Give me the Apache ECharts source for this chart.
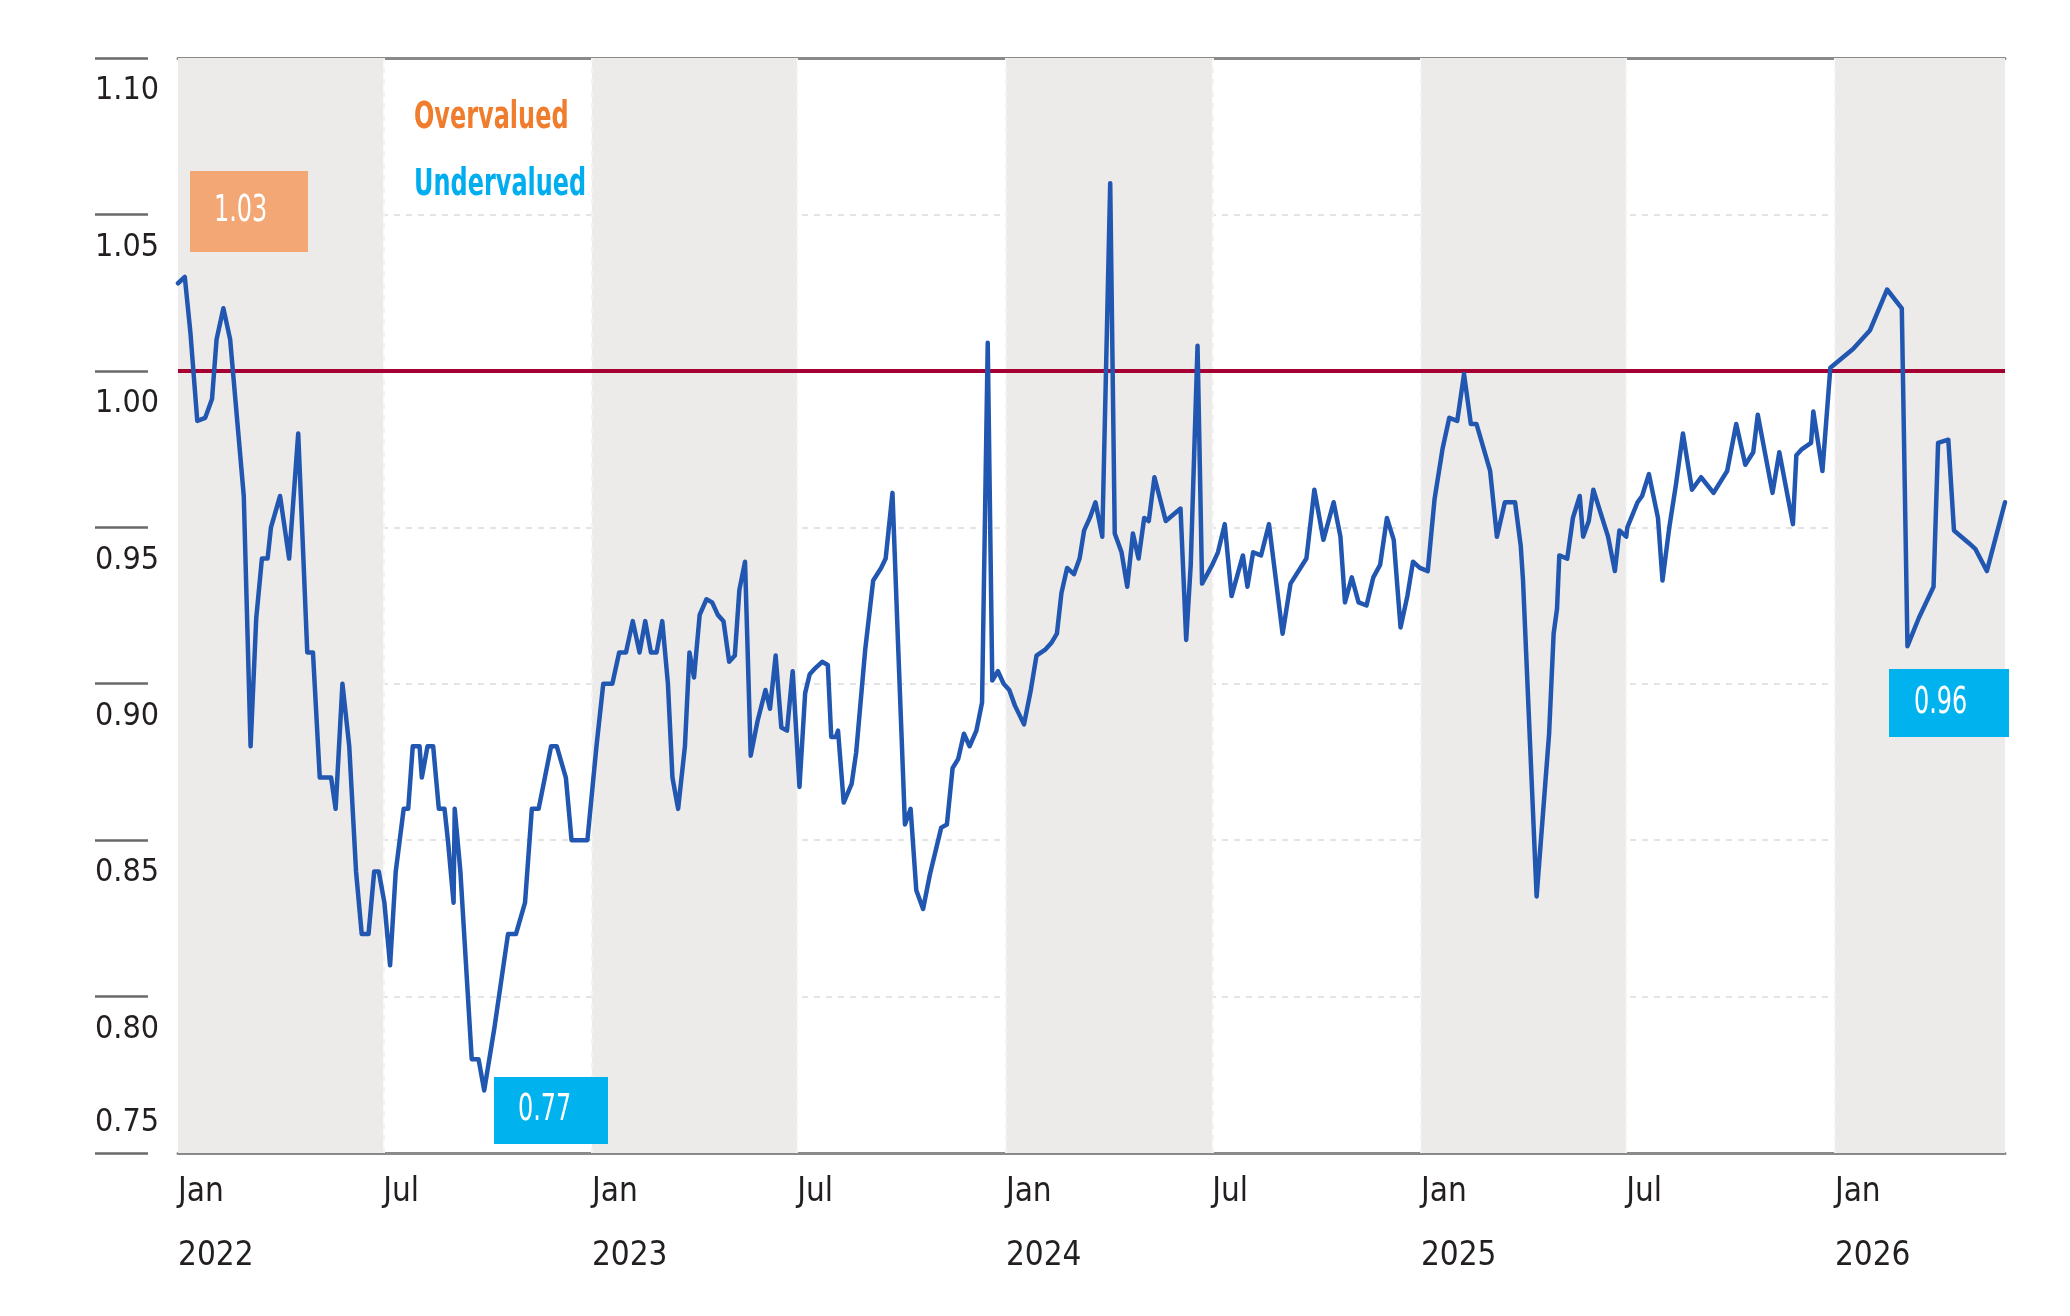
<!DOCTYPE html>
<html>
<head>
<meta charset="utf-8">
<script src="https://cdn.jsdelivr.net/npm/echarts@6/dist/echarts.min.js"></script>
<style>
html,body{margin:0;padding:0;background:#fff;}
#chart{width:2070px;height:1316px;}
</style>
</head>
<body>
<div id="chart"></div>
<script>
// ---- data ----
const dates = [
'2022-01-01','2022-01-07','2022-01-12','2022-01-18','2022-01-25','2022-01-31','2022-02-04','2022-02-10','2022-02-16','2022-02-28',
'2022-03-06','2022-03-11','2022-03-16','2022-03-21','2022-03-24','2022-04-01','2022-04-09','2022-04-17','2022-04-25','2022-04-30',
'2022-05-06','2022-05-16','2022-05-20','2022-05-26','2022-06-01','2022-06-07','2022-06-12','2022-06-18','2022-06-23','2022-06-27',
'2022-07-02','2022-07-07','2022-07-12','2022-07-19','2022-07-23','2022-07-27','2022-08-02','2022-08-04','2022-08-09','2022-08-14',
'2022-08-19','2022-08-24','2022-08-27','2022-09-01','2022-09-02','2022-09-07','2022-09-17','2022-09-23','2022-09-28','2022-10-07',
'2022-10-19','2022-10-26','2022-11-03','2022-11-09','2022-11-15','2022-11-26','2022-12-01','2022-12-09','2022-12-14','2022-12-28',
'2023-01-05','2023-01-11','2023-01-19','2023-01-25','2023-01-31','2023-02-06','2023-02-12','2023-02-17','2023-02-22','2023-02-27',
'2023-03-04','2023-03-09','2023-03-13','2023-03-18','2023-03-24','2023-03-28','2023-04-01','2023-04-06','2023-04-12','2023-04-17',
'2023-04-22','2023-04-27','2023-05-02','2023-05-07','2023-05-11','2023-05-16','2023-05-21','2023-05-27','2023-06-03','2023-06-07',
'2023-06-12','2023-06-17','2023-06-22','2023-06-27','2023-07-03','2023-07-08','2023-07-12','2023-07-17','2023-07-23','2023-07-28',
'2023-07-31','2023-08-04','2023-08-06','2023-08-11','2023-08-18','2023-08-22','2023-08-30','2023-09-06','2023-09-13','2023-09-17',
'2023-09-23','2023-09-28','2023-10-04','2023-10-09','2023-10-14','2023-10-20','2023-10-26','2023-11-05','2023-11-10','2023-11-15',
'2023-11-20','2023-11-25','2023-11-30','2023-12-06','2023-12-11','2023-12-16','2023-12-20','2023-12-25','2023-12-30','2024-01-04',
'2024-01-09','2024-01-17','2024-01-23','2024-01-28','2024-02-05','2024-02-10','2024-02-15','2024-02-19','2024-02-24','2024-03-01',
'2024-03-06','2024-03-10','2024-03-15','2024-03-20','2024-03-26','2024-04-02','2024-04-06','2024-04-12','2024-04-17','2024-04-22',
'2024-04-27','2024-05-02','2024-05-06','2024-05-11','2024-05-21','2024-06-03','2024-06-08','2024-06-12','2024-06-18','2024-06-22',
'2024-07-01','2024-07-06','2024-07-12','2024-07-18','2024-07-28','2024-08-01','2024-08-06','2024-08-13','2024-08-20','2024-09-01',
'2024-09-08','2024-09-22','2024-09-29','2024-10-07','2024-10-16','2024-10-22','2024-10-26','2024-11-01','2024-11-07','2024-11-14',
'2024-11-20','2024-11-26','2024-12-02','2024-12-08','2024-12-14','2024-12-20','2024-12-25','2024-12-31','2025-01-07','2025-01-13',
'2025-01-20','2025-01-26','2025-02-02','2025-02-08','2025-02-14','2025-02-19','2025-03-03','2025-03-09','2025-03-16','2025-03-20',
'2025-03-25','2025-03-30','2025-04-01','2025-04-13','2025-04-24','2025-04-28','2025-05-01','2025-05-03','2025-05-10','2025-05-15',
'2025-05-21','2025-05-24','2025-05-29','2025-06-02','2025-06-15','2025-06-21','2025-06-25','2025-07-01','2025-07-02','2025-07-11',
'2025-07-15','2025-07-21','2025-07-29','2025-08-02','2025-08-08','2025-08-14','2025-08-20','2025-08-28','2025-09-05','2025-09-16',
'2025-09-28','2025-10-06','2025-10-14','2025-10-21','2025-10-25','2025-11-07','2025-11-13','2025-11-25','2025-11-28','2025-12-03',
'2025-12-11','2025-12-13','2025-12-21','2025-12-28','2026-01-17','2026-02-01','2026-02-16','2026-03-01','2026-03-06','2026-03-16',
'2026-03-29','2026-04-02','2026-04-11','2026-04-16','2026-04-29','2026-05-05','2026-05-15','2026-05-31'
];
const values = [
1.028,1.030,1.012,0.984,0.985,0.991,1.010,1.020,1.010,0.960,
0.880,0.921,0.940,0.940,0.950,0.960,0.940,0.980,0.910,0.910,
0.870,0.870,0.860,0.900,0.880,0.840,0.820,0.820,0.840,0.840,
0.830,0.810,0.840,0.860,0.860,0.880,0.880,0.870,0.880,0.880,
0.860,0.860,0.850,0.830,0.860,0.840,0.780,0.780,0.770,0.790,
0.820,0.820,0.830,0.860,0.860,0.880,0.880,0.870,0.850,0.850,
0.880,0.900,0.900,0.910,0.910,0.920,0.910,0.920,0.910,0.910,
0.920,0.900,0.870,0.860,0.880,0.910,0.902,0.922,0.927,0.926,
0.922,0.920,0.907,0.909,0.930,0.939,0.877,0.888,0.898,0.892,
0.909,0.886,0.885,0.904,0.867,0.897,0.903,0.905,0.907,0.906,
0.883,0.883,0.885,0.862,0.868,0.878,0.911,0.933,0.937,0.940,
0.961,0.912,0.855,0.860,0.834,0.828,0.839,0.854,0.855,0.873,
0.876,0.884,0.880,0.885,0.894,1.009,0.901,0.904,0.900,0.898,
0.893,0.887,0.898,0.909,0.911,0.913,0.916,0.929,0.937,0.935,
0.940,0.949,0.953,0.958,0.947,1.060,0.948,0.942,0.931,0.948,
0.940,0.953,0.952,0.966,0.952,0.956,0.914,0.938,1.008,0.932,
0.938,0.942,0.951,0.928,0.941,0.931,0.942,0.941,0.951,0.916,
0.932,0.940,0.962,0.946,0.958,0.947,0.926,0.934,0.926,0.925,
0.934,0.938,0.953,0.946,0.918,0.928,0.939,0.937,0.936,0.959,
0.975,0.985,0.984,0.999,0.983,0.983,0.968,0.947,0.958,0.958,
0.958,0.944,0.933,0.832,0.884,0.916,0.924,0.941,0.940,0.953,
0.960,0.947,0.952,0.962,0.947,0.936,0.949,0.947,0.950,0.958,
0.960,0.967,0.953,0.933,0.950,0.964,0.980,0.962,0.966,0.961,
0.968,0.983,0.970,0.974,0.986,0.961,0.974,0.951,0.973,0.975,
0.977,0.987,0.968,1.001,1.007,1.013,1.026,1.020,0.912,0.921,
0.931,0.977,0.978,0.949,0.945,0.943,0.936,0.958
];
const shadedStarts = ['2022-01-01','2023-01-01','2024-01-01','2025-01-01','2026-01-01'];
const shadedEnds   = ['2022-07-01','2023-07-01','2024-07-01','2025-07-01','2026-05-31'];
const bandBoundaries = ['2022-07-01','2023-01-01','2023-07-01','2024-01-01','2024-07-01','2025-01-01','2025-07-01','2026-01-01'];
const axisStart = '2022-01-01';
const axisEnd = '2026-05-31';
const fairValue = 1.00;
const yMin = 0.75, yMax = 1.10, yStep = 0.05;
const monthLabels = {0: 'Jan', 6: 'Jul'};
const overLabel = 'Overvalued';
const underLabel = 'Undervalued';

// ---- chart ----
const FONT = "'Liberation Sans Narrow','DejaVu Sans Condensed','Roboto Condensed',sans-serif";
const seriesData = dates.map((d, i) => [d, values[i]]);
const firstVal = values[0];
const lastVal = values[values.length - 1];
const minVal = Math.min.apply(null, values);

const chart = echarts.init(document.getElementById('chart'), null, {renderer: 'canvas'});

function box(left, top, w, h, fill, text, tx) {
  return {
    type: 'group', left: left, top: top, z: 100,
    children: [
      {type: 'rect', z: 100, shape: {x: 0, y: 0, width: w, height: h}, style: {fill: fill}},
      {type: 'text', z: 101, x: tx, y: h / 2, scaleX: 0.72,
       style: {text: text, fill: '#ffffff', font: "37px " + FONT, verticalAlign: 'middle'}}
    ]
  };
}

const option = {
  backgroundColor: '#ffffff',
  animation: false,
  grid: {left: 178, right: 65, top: 58, bottom: 163, containLabel: false},
  xAxis: [{
    type: 'time',
    min: axisStart,
    max: axisEnd,
    splitNumber: 9,
    axisLine: {show: true, lineStyle: {color: '#8a8a8a', width: 3}},
    axisTick: {show: false},
    splitLine: {show: false},
    axisLabel: {
      show: true,
      margin: 7,
      align: 'left',
      verticalAlign: 'top',
      showMinLabel: true,
      showMaxLabel: false,
      hideOverlap: false,
      formatter: function (val) {
        const d = new Date(val);
        if (d.getDate() !== 1) return '';
        const m = monthLabels[d.getMonth()];
        if (!m) return '';
        if (d.getMonth() === 0) return '{m|' + m + '}\n{y|' + d.getFullYear() + '}';
        return '{m|' + m + '}';
      },
      rich: {
        m: {fontFamily: FONT, fontSize: 33, color: '#231f20', lineHeight: 64},
        y: {fontFamily: FONT, fontSize: 33, color: '#231f20', lineHeight: 64}
      }
    }
  }, {
    type: 'time',
    position: 'top',
    min: axisStart,
    max: axisEnd,
    axisLine: {show: true, lineStyle: {color: '#8a8a8a', width: 3}},
    axisTick: {show: false},
    axisLabel: {show: false},
    splitLine: {show: false}
  }],
  yAxis: {
    type: 'value',
    min: yMin,
    max: yMax,
    interval: yStep,
    offset: 30,
    axisLine: {show: false},
    axisTick: {show: true, length: 53, lineStyle: {color: '#6a6a6a', width: 2.5}},
    splitLine: {show: true, lineStyle: {color: '#e4e4e4', width: 2, type: [6, 6]}},
    axisLabel: {
      show: true,
      margin: 53,
      align: 'left',
      formatter: function (v) {
        const t = v.toFixed(2);
        if (Math.abs(v - yMin) < 1e-6) return '{lo|' + t + '}';
        return '{hi|' + t + '}';
      },
      rich: {
        hi: {fontFamily: FONT, fontSize: 32, color: '#231f20', padding: [66, 0, 0, 0]},
        lo: {fontFamily: FONT, fontSize: 32, color: '#231f20', padding: [0, 0, 60, 0]}
      }
    }
  },
  series: [{
    name: 'bands',
    type: 'line',
    data: seriesData,
    showSymbol: false,
    silent: true,
    lineStyle: {opacity: 0},
    z: 1,
    markArea: {
      silent: true,
      itemStyle: {color: '#ecebe9'},
      data: shadedStarts.map((s, i) => [{xAxis: s}, {xAxis: shadedEnds[i]}])
    },
    markLine: {
      silent: true,
      symbol: 'none',
      label: {show: false},
      data: bandBoundaries.map(d => ({xAxis: d, lineStyle: {color: '#f3f3f3', width: 2, type: [6, 6]}}))
        .concat([{yAxis: fairValue, lineStyle: {color: '#a50034', width: 4, type: 'solid'}}])
    }
  }, {
    name: 'ratio',
    type: 'line',
    data: seriesData,
    showSymbol: false,
    z: 5,
    lineStyle: {color: '#2157b0', width: 4.5, join: 'round', cap: 'round'},
    itemStyle: {color: '#2157b0'}
  }],
  graphic: [
    {type: 'text', z: 100, left: 414, top: 100, scaleX: 0.72,
     style: {text: overLabel, fill: '#f07d2e', font: "bold 37px " + FONT}},
    {type: 'text', z: 100, left: 414, top: 167, scaleX: 0.72,
     style: {text: underLabel, fill: '#00aeef', font: "bold 37px " + FONT}},
    box(190, 171, 118, 81, '#f2a774', firstVal.toFixed(2), 24),
    box(494, 1077, 114, 67, '#00b3ee', minVal.toFixed(2), 24),
    box(1889, 669, 120, 68, '#00b3ee', lastVal.toFixed(2), 25)
  ]
};
chart.setOption(option);
</script>
</body>
</html>
